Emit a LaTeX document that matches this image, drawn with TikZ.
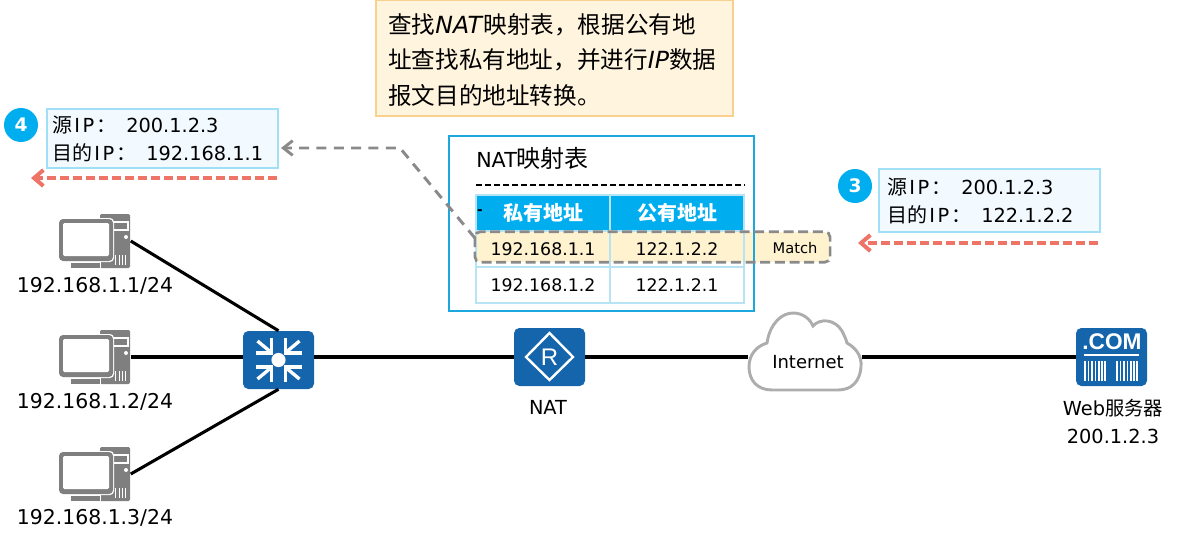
\documentclass[tikz,border=0pt]{standalone}
\usepackage{fontspec}
\setmainfont{DejaVu Sans}
\newfontfamily\cjkfont{Noto Sans CJK SC}
\newfontfamily\iconfont{Liberation Sans}
\usetikzlibrary{arrows.meta}
\definecolor{iconblue}{HTML}{1565AC}
\definecolor{iconcyan}{HTML}{00AEEF}
\definecolor{pcgray}{HTML}{7F7F7F}
\definecolor{natline}{HTML}{1CA7DF}
\definecolor{cellline}{HTML}{B7E4F4}
\definecolor{matchfill}{HTML}{FFF2CF}
\definecolor{dashgray}{HTML}{8A8A8A}
\definecolor{redline}{HTML}{EE7468}
\definecolor{infofill}{HTML}{F2FAFF}
\definecolor{infoline}{HTML}{A0DFF6}
\definecolor{notefill}{HTML}{FFF4DE}
\definecolor{noteline}{HTML}{FAD08E}
\newcommand{\cjkbig}[1]{{\cjkfont\fontsize{15}{21}\selectfont #1}}
\newcommand{\ipword}{\kern1.5ptI\kern2ptP\kern1.5pt}
\begin{document}
\begin{tikzpicture}[x=0.75pt,y=-0.75pt]
        \tikzstyle{txt}=[inner sep=0pt, font=\fontsize{14.5}{18}\selectfont]
        \tikzstyle{iptxt}=[inner sep=0pt, font=\fontsize{15.3}{18}\selectfont]
        \tikzstyle{iconbox}=[rounded corners=4pt, fill=iconblue, minimum width=53.25pt, minimum height=43.5pt, inner sep=0pt]
        \tikzstyle{pcbox}=[minimum width=53.25pt, minimum height=40.5pt, inner sep=0pt]
        \tikzstyle{cell}=[draw=cellline, line width=1.5pt, minimum width=100.5pt, minimum height=27pt, inner sep=0pt, font=\fontsize{13}{18}\selectfont]
        \tikzstyle{headcell}=[cell, fill=iconcyan, text=white, font=\fontsize{15}{18}\selectfont\cjkfont\bfseries]
        \tikzstyle{info}=[draw=infoline, fill=infofill, line width=1.6pt, inner sep=0pt]
        \tikzstyle{infotext}=[anchor=west, inner sep=0pt, align=left, font=\fontsize{14.5}{21}\selectfont]
        \tikzstyle{badge}=[circle, fill=iconcyan, text=white, minimum size=25.5pt, inner sep=0pt, font=\fontsize{14}{16}\selectfont\bfseries]
        \tikzstyle{wire}=[line width=2.3pt, black]
        \tikzstyle{redarrow}=[->, >={Straight Barb[length=7pt,width=12pt]}, draw=redline, line width=3pt, dash pattern=on 6.75pt off 3pt]
        \tikzstyle{grayarrow}=[->, >={Straight Barb[length=7pt,width=11pt]}, draw=dashgray, line width=2.2pt, dash pattern=on 7.5pt off 5.5pt]
        \tikzset{
          pcicon/.pic={
            \fill[pcgray, rounded corners=1pt] (5,-27) rectangle (35,27);
            \draw[white, line width=0.8pt] (18,-19) rectangle (33,-11);
            \fill[white] (31,-4) circle (1.5pt);
            \foreach \bar in {20,23.5,27,30} {\fill[white] (\bar,14) rectangle ++(1.2,10);}
            \fill[white, rounded corners=3pt] (-37,-23) rectangle (19,21);
            \fill[pcgray, rounded corners=3pt] (-36,-22) rectangle (18,20);
            \fill[white, rounded corners=1pt] (-32,-18) rectangle (14,15);
            \fill[white] (-25,21) rectangle (6,27);
            \fill[pcgray] (-24,22) rectangle (5,27);
          }
        }
        \useasboundingbox (0,0) rectangle (1193,539);
        % note
        \node[draw=noteline, fill=notefill, line width=1.5pt, minimum width=267.75pt, minimum height=87pt, inner sep=0pt] (note) at (554.5,58) {};
        \node[anchor=west, inner sep=0pt, align=left, font=\fontsize{17.7}{26.5}\selectfont] (notetext) at (388,60) {{\cjkfont 查找}\textit{NAT}{\cjkfont 映射表，根据公有地}\\{\cjkfont 址查找私有地址，并进行}\textit{IP}{\cjkfont 数据}\\{\cjkfont 报文目的地址转换。}};
        % nat table
        \node[fill=matchfill, rounded corners=4pt, minimum width=266pt, minimum height=22.5pt, inner sep=0pt] (match) at (652.5,247) {};
        \node[draw=natline, line width=1.6pt, minimum width=228.75pt, minimum height=131.25pt, inner sep=0pt] (natbox) at (601.5,223.5) {};
        \node[inner sep=0pt, anchor=west, font=\fontsize{15.5}{18}\selectfont] (nattitle) at (476,158) {NAT{\cjkfont\fontsize{18}{18}\selectfont 映射表}};
        \node[minimum width=201pt, inner sep=0pt] (natrule) at (610.5,185) {};
        \draw[black, line width=1.1pt, dash pattern=on 4.5pt off 2.2pt] (natrule.west) -- (natrule.east);
        \node[headcell] (privhead) at (543,213) {私有地址};
        \node[headcell] (pubhead) at (677,213) {公有地址};
        \node[cell] (privA) at (543,249) {192.168.1.1};
        \node[cell] (pubA) at (677,249) {122.1.2.2};
        \node[cell] (privB) at (543,285) {192.168.1.2};
        \node[cell] (pubB) at (677,285) {122.1.2.1};
        \node[inner sep=0pt, font=\bfseries] (headmark) at (480,212) {-};
        \draw[dashgray, line width=2pt, rounded corners=4pt, dash pattern=on 7.5pt off 3.5pt] (match.north west) rectangle (match.south east);
        \node[inner sep=0pt, font=\fontsize{11}{12}\selectfont] (matchtext) at (795,248) {Match};
        % source and destination boxes
        \node[badge] (stepfour) at (21,125) {4};
        \node[info, minimum width=173.25pt, minimum height=44.25pt] (infofour) at (162.5,138.5) {};
        \node[infotext] (infofourtext) at (52,139) {\cjkbig{源}\ipword\cjkbig{：}\kern7.5pt 200.1.2.3\\\cjkbig{目的}\ipword\cjkbig{：}\kern7.5pt 192.168.1.1};
        \node[badge] (stepthree) at (855,186) {3};
        \node[info, minimum width=165.75pt, minimum height=47.25pt] (infothree) at (989.5,200.5) {};
        \node[infotext] (infothreetext) at (887,201) {\cjkbig{源}\ipword\cjkbig{：}\kern7.5pt 200.1.2.3\\\cjkbig{目的}\ipword\cjkbig{：}\kern7.5pt 122.1.2.2};
        % network
        \node[pcbox] (pcA) at (95,241) {};
        \node[pcbox] (pcB) at (95,357) {};
        \node[pcbox] (pcC) at (95,474) {};
        \pic at (pcA) {pcicon};
        \pic at (pcB) {pcicon};
        \pic at (pcC) {pcicon};
        \node[iptxt] (pcAip) at (95,286) {192.168.1.1/24};
        \node[iptxt] (pcBip) at (95,402) {192.168.1.2/24};
        \node[iptxt] (pcCip) at (95,518) {192.168.1.3/24};
        \node[iconbox] (sw) at (278.5,360) {};
        \foreach \sx/\sy in {1/1,-1/1,1/-1,-1/-1} {
          \begin{scope}[shift={(278.5,360)}, xscale=\sx, yscale=\sy]
            \draw[white, line width=2.5pt] (7,22) -- (7,7) -- (23,7);
            \draw[white, line width=2.5pt] (9,9) -- (21,19);
          \end{scope}
        }
        \fill[white] (278.5,360) circle (5.3pt);
        \node[iconbox] (nat) at (549.5,357) {};
        \draw[white, line width=1.8pt] (549.5,333) -- (573,357) -- (549.5,380) -- (526,357) -- cycle;
        \node[text=white, inner sep=0pt, font=\fontsize{18}{18}\selectfont\iconfont] (natR) at (549.5,357) {R};
        \node[txt] (natlabel) at (548,407) {NAT};
        \node[minimum width=85.5pt, minimum height=59pt, inner sep=0pt] (cloud) at (805,350.5) {};
        \draw[fill=white, draw=black!32, line width=2.2pt] (772,390)
          .. controls (757,390) and (749,380) .. (749,367)
          .. controls (749,354) and (757,346) .. (767,343)
          .. controls (770,323) and (782,313) .. (793,313)
          .. controls (803,313) and (810,319) .. (813,326)
          .. controls (820,318) and (835,319) .. (842,331)
          .. controls (844,335) and (846,339) .. (847,343)
          .. controls (856,348) and (862,356) .. (861,367)
          .. controls (860,381) and (852,390) .. (838,390) -- cycle;
        \node[inner sep=0pt, font=\fontsize{13.5}{14}\selectfont] (cloudlabel) at (808,362) {Internet};
        \node[iconbox] (web) at (1111.5,357) {};
        \node[text=white, inner sep=0pt, font=\fontsize{17}{18}\selectfont\iconfont\bfseries] (webcom) at (1112,342) {.COM};
        \draw[white, line width=0.8pt] (1084,355) -- (1139,355);
        \foreach \bar in {1085,1088.5,1092,1095.5,1099,1102,1105,1117,1120.5,1124,1127.5,1131,1134,1137} {
          \draw[white, line width=0.8pt] (\bar,361) -- (\bar,381);
        }
        \node[txt] (weblabel) at (1113,408) {Web{\cjkfont 服务器}};
        \node[txt] (webip) at (1113,436) {200.1.2.3};
        % links
        \draw[wire] (pcA.east) -- (sw.north);
        \draw[wire] (pcB.east) -- (sw.west |- pcB);
        \draw[wire] (pcC.east) -- (sw.south);
        \draw[wire] (sw.east |- nat) -- (nat.west);
        \draw[wire] (nat.east) -- (cloud.west |- nat);
        \draw[wire] (cloud.east |- web) -- (web.west);
        % arrows
        \coordinate (grayend) at (281,148);
        \coordinate (graybend) at (400,148);
        \coordinate (redfourstart) at (277,178);
        \coordinate (redfourend) at (31,178);
        \coordinate (redthreestart) at (1098,243);
        \coordinate (redthreeend) at (858,243);
        \draw[grayarrow] (match.west) ++(0,-9) -- (graybend) -- (grayend);
        \draw[redarrow] (redfourstart) -- (redfourend);
        \draw[redarrow] (redthreestart) -- (redthreeend);
    \end{tikzpicture}
\end{document}
